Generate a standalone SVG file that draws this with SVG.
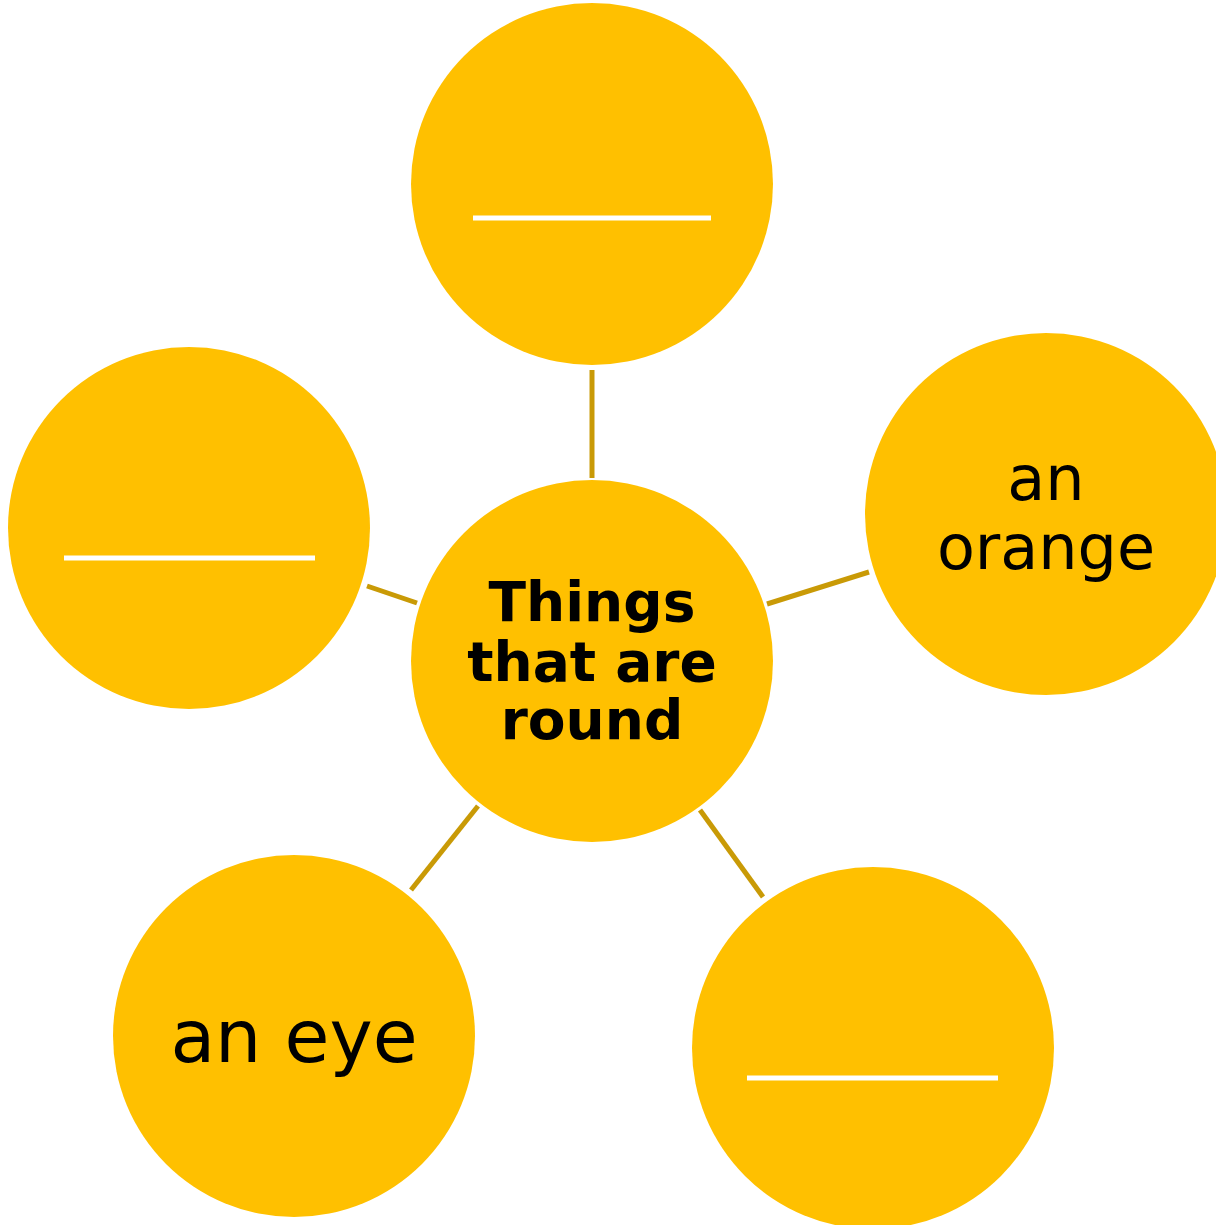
<svg xmlns="http://www.w3.org/2000/svg" width="1216" height="1225" viewBox="0 0 1216 1225">
<style>
.node{fill:#FFC000}
.conn{stroke:#C99A06;stroke-width:5;fill:none}
.blank{stroke:#FFFFFF;stroke-width:5}
text{font-family:"DejaVu Sans",Verdana,sans-serif;fill:#000;text-anchor:middle}
</style>
<rect width="1216" height="1225" fill="#FFFFFF"/>
<g id="connectors">
<line class="conn" x1="592" y1="370" x2="592" y2="478"/>
<line class="conn" x1="367" y1="586" x2="417" y2="603"/>
<line class="conn" x1="767" y1="604" x2="869" y2="572"/>
<line class="conn" x1="478" y1="806" x2="411" y2="890"/>
<line class="conn" x1="700" y1="810" x2="763" y2="897"/>
</g>
<g id="center">
<circle class="node" cx="592" cy="661" r="181"/>
<text font-size="55" font-weight="bold"><tspan x="592" y="621">Things</tspan><tspan x="592" y="681">that are</tspan><tspan x="592" y="739">round</tspan></text>
</g>
<g id="top">
<circle class="node" cx="592" cy="184" r="181"/>
<line class="blank" x1="473" y1="218" x2="711" y2="218"/>
</g>
<g id="right">
<circle class="node" cx="1046" cy="514" r="181"/>
<text font-size="62"><tspan x="1046" y="500">an</tspan><tspan x="1046" y="569">orange</tspan></text>
</g>
<g id="left">
<circle class="node" cx="189" cy="528" r="181"/>
<line class="blank" x1="64" y1="558" x2="315" y2="558"/>
</g>
<g id="bottom-left">
<circle class="node" cx="294" cy="1036" r="181"/>
<text font-size="73" x="294" y="1062">an eye</text>
</g>
<g id="bottom-right">
<circle class="node" cx="873" cy="1048" r="181"/>
<line class="blank" x1="747" y1="1078" x2="998" y2="1078"/>
</g>
</svg>
